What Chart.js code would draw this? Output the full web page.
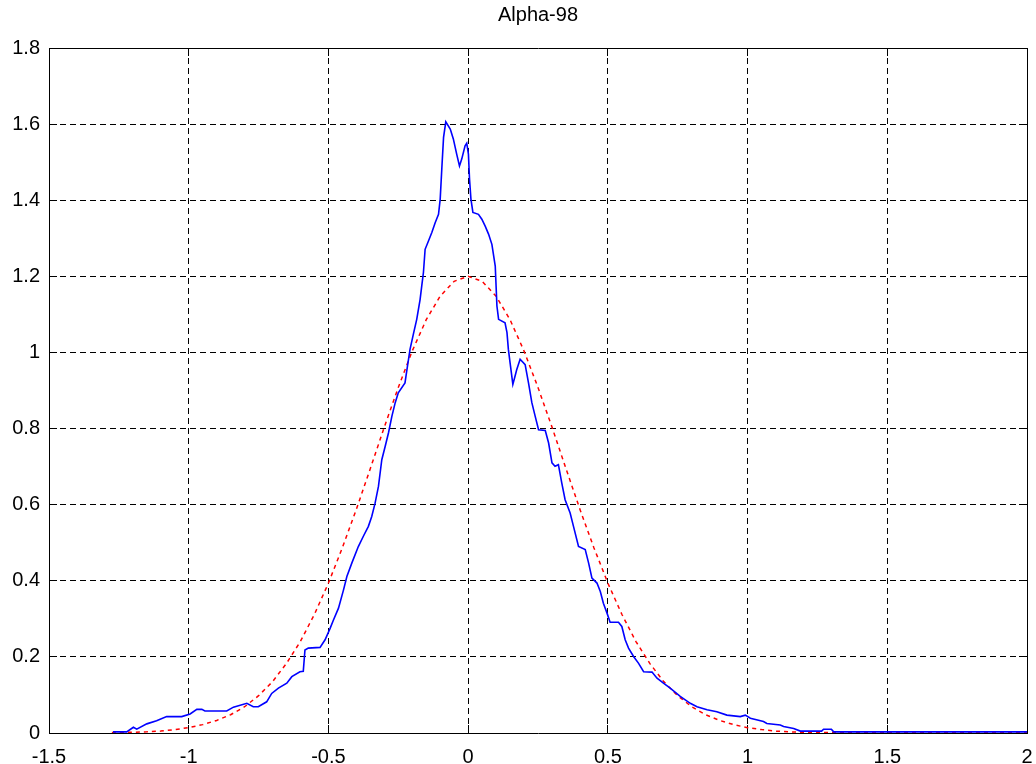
<!DOCTYPE html>
<html>
<head>
<meta charset="utf-8">
<script src="https://cdn.jsdelivr.net/npm/chart.js@4.4.1/dist/chart.umd.min.js"></script>
<style>
  html, body { margin: 0; padding: 0; background: #ffffff; overflow: hidden; width: 1036px; height: 764px; }
  #wrap { position: relative; width: 1036px; height: 764px; overflow: hidden; }
  #c { display: block; }
</style>
</head>
<body>
<div id="wrap"><canvas id="c"></canvas></div>
<script>
// ---- data ----
const chartTitle = 'Alpha-98';

const xTickLabels = ['-1.5', '-1', '-0.5', '0', '0.5', '1', '1.5', '2'];
const yTickLabels = ['0', '0.2', '0.4', '0.6', '0.8', '1', '1.2', '1.4', '1.6', '1.8'];

// empirical density (blue solid)
const empX = [
  -1.271, -1.222, -1.198, -1.186, -1.150, -1.115, -1.079, -1.025, -0.995, -0.971,
  -0.953, -0.942, -0.864, -0.840, -0.792, -0.769, -0.751, -0.721, -0.703, -0.679,
  -0.649, -0.631, -0.602, -0.590, -0.584, -0.572, -0.530, -0.512, -0.494, -0.482,
  -0.464, -0.446, -0.434, -0.416, -0.393, -0.375, -0.357, -0.345, -0.333, -0.321,
  -0.309, -0.297, -0.285, -0.273, -0.261, -0.250, -0.226, -0.219, -0.208, -0.196,
  -0.184, -0.172, -0.166, -0.160, -0.154, -0.142, -0.130, -0.118, -0.106, -0.100,
  -0.094, -0.088, -0.080, -0.064, -0.053, -0.041, -0.031, -0.023, -0.011, -0.005,
  0.001, 0.005, 0.010, 0.017, 0.037, 0.049, 0.061, 0.073, 0.085, 0.097,
  0.103, 0.109, 0.132, 0.139, 0.144, 0.150, 0.160, 0.168, 0.174, 0.186,
  0.204, 0.216, 0.228, 0.240, 0.252, 0.276, 0.288, 0.300, 0.311, 0.323,
  0.335, 0.347, 0.365, 0.377, 0.395, 0.419, 0.431, 0.443, 0.461, 0.473,
  0.484, 0.497, 0.508, 0.538, 0.550, 0.562, 0.574, 0.592, 0.610, 0.628,
  0.658, 0.676, 0.699, 0.723, 0.759, 0.795, 0.819, 0.855, 0.890, 0.926,
  0.974, 0.992, 1.010, 1.057, 1.069, 1.117, 1.129, 1.165, 1.189, 1.265,
  1.272, 1.300, 1.308, 2.000
];
const empY = [
  0.003, 0.003, 0.015, 0.010, 0.024, 0.032, 0.043, 0.043, 0.050, 0.062,
  0.062, 0.058, 0.058, 0.068, 0.078, 0.069, 0.069, 0.082, 0.104, 0.118,
  0.131, 0.148, 0.161, 0.162, 0.218, 0.223, 0.225, 0.245, 0.275, 0.297,
  0.328, 0.376, 0.411, 0.447, 0.490, 0.517, 0.543, 0.569, 0.604, 0.648,
  0.718, 0.753, 0.789, 0.832, 0.868, 0.894, 0.920, 0.955, 1.008, 1.048,
  1.087, 1.139, 1.175, 1.210, 1.271, 1.293, 1.315, 1.341, 1.363, 1.403,
  1.486, 1.565, 1.606, 1.587, 1.561, 1.521, 1.490, 1.508, 1.543, 1.550,
  1.521, 1.455, 1.403, 1.368, 1.363, 1.350, 1.332, 1.311, 1.284, 1.227,
  1.122, 1.087, 1.078, 1.052, 1.008, 0.973, 0.916, 0.938, 0.955, 0.982,
  0.968, 0.920, 0.868, 0.832, 0.797, 0.795, 0.762, 0.710, 0.701, 0.705,
  0.657, 0.613, 0.578, 0.543, 0.490, 0.482, 0.447, 0.407, 0.394, 0.372,
  0.341, 0.315, 0.291, 0.291, 0.280, 0.245, 0.223, 0.201, 0.183, 0.161,
  0.160, 0.144, 0.131, 0.118, 0.096, 0.078, 0.069, 0.061, 0.056, 0.047,
  0.043, 0.047, 0.039, 0.030, 0.025, 0.021, 0.017, 0.012, 0.005, 0.005,
  0.010, 0.010, 0.003, 0.003
];

// fitted normal density (red dashed)
const fitX = [
  -1.275, -1.25, -1.20, -1.15, -1.10, -1.05, -1.00, -0.95, -0.90, -0.85,
  -0.80, -0.75, -0.70, -0.65, -0.60, -0.55, -0.50, -0.45, -0.40, -0.35,
  -0.30, -0.25, -0.20, -0.15, -0.10, -0.05, 0.00, 0.05, 0.10, 0.15,
  0.20, 0.25, 0.30, 0.35, 0.40, 0.45, 0.50, 0.55, 0.60, 0.65,
  0.70, 0.75, 0.80, 0.85, 0.90, 0.95, 1.00, 1.05, 1.10, 1.15,
  1.20, 1.25, 1.30, 1.50, 2.00
];
const fitY = [
  0.001, 0.001, 0.002, 0.003, 0.005, 0.009, 0.014, 0.022, 0.033, 0.048,
  0.069, 0.098, 0.135, 0.183, 0.241, 0.312, 0.394, 0.487, 0.588, 0.695,
  0.804, 0.908, 1.004, 1.086, 1.148, 1.187, 1.200, 1.187, 1.148, 1.086,
  1.004, 0.908, 0.804, 0.695, 0.588, 0.487, 0.394, 0.312, 0.241, 0.183,
  0.135, 0.098, 0.069, 0.048, 0.033, 0.022, 0.014, 0.009, 0.005, 0.003,
  0.002, 0.001, 0.001, 0.001, 0.001
];

// ---- chart ----
const FONT = { family: '"Liberation Sans", Arial, sans-serif', size: 20 };
const zip = (xs, ys) => xs.map((x, i) => ({ x: x, y: ys[i] }));

const xRange = { min: -1.5, max: 2, stepSize: 0.5 };
const yRange = { min: 0, max: 1.8, stepSize: 0.2 };

const dashedGrid = { color: '#000000', lineWidth: 1, tickLength: -8, tickColor: '#000000', tickWidth: 1 };
const solidBorder = { display: true, color: '#000000', width: 1, dash: [6, 4] };

function fixBox(w, h) {
  return s => {
    if (w !== null) s.width = w;
    if (h !== null) s.height = h;
    s.paddingLeft = 0; s.paddingRight = 0; s.paddingTop = 0; s.paddingBottom = 0;
  };
}

new Chart(document.getElementById('c'), {
  type: 'line',
  data: {
    datasets: [
      {
        label: 'empirical',
        data: zip(empX, empY),
        borderColor: '#0000ff',
        borderWidth: 1.6,
        pointRadius: 0,
        tension: 0,
        fill: false
      },
      {
        label: 'normal fit',
        data: zip(fitX, fitY),
        borderColor: '#ff0000',
        borderWidth: 1.5,
        borderDash: [4, 4],
        pointRadius: 0,
        tension: 0,
        fill: false
      }
    ]
  },
  options: {
    responsive: true,
    maintainAspectRatio: false,
    animation: false,
    layout: { padding: 0 },
    plugins: {
      legend: { display: false },
      tooltip: { enabled: false },
      title: { display: false }
    },
    scales: {
      x: {
        type: 'linear',
        position: 'bottom',
        min: xRange.min, max: xRange.max,
        afterFit: fixBox(null, 31),
        ticks: {
          stepSize: xRange.stepSize,
          color: '#000000',
          font: FONT,
          padding: 20,
          maxRotation: 0,
          autoSkip: false,
          callback: (v, i) => xTickLabels[i]
        },
        grid: dashedGrid,
        border: solidBorder
      },
      xTop: {
        type: 'linear',
        position: 'top',
        min: xRange.min, max: xRange.max,
        afterFit: fixBox(null, 48),
        ticks: { stepSize: xRange.stepSize, display: false },
        grid: { drawOnChartArea: false, color: '#000000', tickLength: -8, tickColor: '#000000' },
        border: { display: true, color: '#000000', width: 1 },
        title: {
          display: true,
          text: chartTitle,
          color: '#000000',
          font: FONT,
          padding: { top: 3, bottom: 0 }
        }
      },
      y: {
        type: 'linear',
        position: 'left',
        min: yRange.min, max: yRange.max,
        afterFit: fixBox(49, null),
        ticks: {
          stepSize: yRange.stepSize,
          color: '#000000',
          font: FONT,
          padding: 17,
          autoSkip: false,
          callback: (v, i) => yTickLabels[i]
        },
        grid: dashedGrid,
        border: solidBorder
      },
      yRight: {
        type: 'linear',
        position: 'right',
        min: yRange.min, max: yRange.max,
        afterFit: fixBox(9, null),
        ticks: { stepSize: yRange.stepSize, display: false },
        grid: { drawOnChartArea: false, color: '#000000', tickLength: -8, tickColor: '#000000' },
        border: { display: true, color: '#000000', width: 1 }
      }
    }
  }
});
</script>
</body>
</html>
